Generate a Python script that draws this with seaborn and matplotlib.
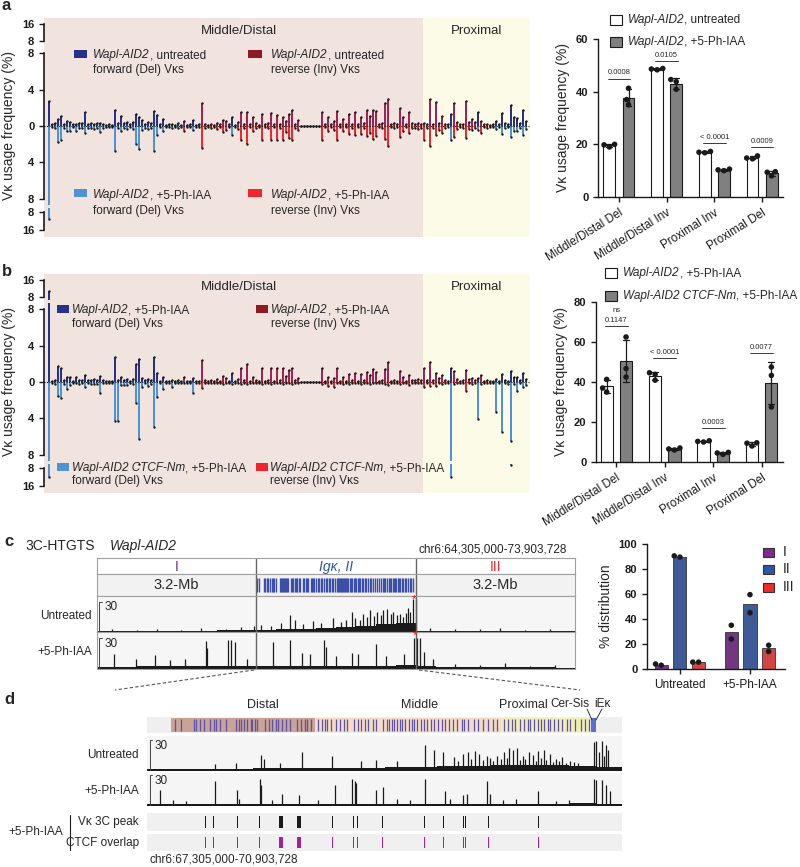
import numpy as np
import pandas as pd
import seaborn as sns
import matplotlib.pyplot as plt
from matplotlib.patches import Rectangle
from matplotlib.lines import Line2D
from matplotlib.text import Annotation

# ---------------- data ----------------
# Vk genes ordered distal -> proximal; D = forward (Del), I = reverse (Inv)
vk_orient = "D" * 45 + "I" + "D" * 5 + "I" * 10 + "D" * 2 + "I" * 71 + "D" + "I" * 8 + "D" + "I" * 5 + "D" * 11
n_middle_distal = 125

# Vk usage frequency (%)
wapl_untreated = [
    2.7, 0.2, 0.3, 0.8, 1.1, 0.2, 0.5, 0.4, 0.2, 0.2,
    0.3, 0.3, 1.5, 0.2, 0.3, 0.2, 0.3, 0.3, 0.2, 0.1,
    0.2, 0.1, 1.7, 0.3, 1.1, 0.3, 0.4, 0.2, 0.4, 1.3,
    1.0, 0.7, 0.2, 0.4, 0.3, 1.6, 1.2, 0.2, 0.8, 0.1,
    0.2, 0.2, 0.1, 0.3, 0.1, 0.6, 0.1, 0.2, 0.7, 0.1,
    0.2, 2.5, 0.2, 0.1, 0.2, 0.1, 0.3, 0.2, 0.7, 0.5,
    0.2, 1.0, 0.1, 0.4, 1.5, 0.2, 1.5, 0.2, 1.0, 0.3,
    0.1, 1.3, 0.2, 0.3, 1.4, 0.2, 1.2, 0.2, 1.0, 0.5,
    1.3, 1.7, 0.2, 0.7, 0.05, 0.05, 0.05, 0.05, 0.05, 0.05,
    0.05, 1.5, 0.2, 1.0, 0.2, 0.5, 1.6, 0.2, 0.8, 0.2,
    1.3, 0.2, 1.5, 0.2, 1.0, 0.3, 1.7, 1.1, 1.8, 1.6,
    0.2, 0.3, 2.5, 3.0, 0.2, 0.3, 0.2, 2.0, 1.0, 0.2,
    1.5, 0.3, 0.2, 0.3, 0.2, 0.3, 0.2, 3.0, 0.2, 2.6,
    0.3, 1.1, 0.2, 0.2, 1.3, 2.5, 0.4, 0.2, 0.2, 2.7,
    0.4, 0.8, 0.4, 1.5, 0.5, 0.2, 0.2, 0.1, 0.2, 0.6,
    0.2, 1.4, 0.3, 0.2, 2.3, 1.0, 0.9, 0.3, 1.8, 0.6,
]
wapl_phiaa = [
    11.0, 0.1, 0.2, 1.8, 1.5, 0.2, 0.6, 0.5, 0.1, 0.6,
    0.2, 0.2, 0.8, 0.2, 0.2, 0.3, 0.2, 0.7, 0.2, 0.1,
    0.1, 0.1, 2.7, 0.2, 0.6, 0.2, 0.3, 0.1, 0.3, 2.0,
    2.5, 0.4, 0.2, 0.3, 0.2, 2.7, 1.0, 0.1, 0.6, 0.1,
    0.1, 0.2, 0.1, 0.2, 0.1, 0.5, 0.1, 0.1, 0.4, 0.1,
    0.1, 2.4, 0.2, 0.1, 0.2, 0.1, 0.3, 0.1, 0.7, 0.4,
    0.1, 1.0, 0.1, 0.3, 1.5, 0.2, 2.0, 0.1, 0.5, 0.2,
    0.1, 1.5, 0.1, 0.2, 1.5, 0.1, 1.5, 0.2, 1.5, 0.7,
    1.3, 1.5, 0.2, 0.4, 0.05, 0.05, 0.05, 0.05, 0.05, 0.05,
    0.05, 1.5, 0.1, 0.6, 0.1, 0.4, 1.5, 0.1, 0.6, 0.1,
    0.9, 0.2, 1.0, 0.1, 0.9, 0.2, 1.1, 0.8, 1.4, 1.1,
    0.1, 0.2, 1.4, 2.2, 0.1, 0.2, 0.1, 1.2, 0.5, 0.1,
    0.8, 0.2, 0.2, 0.3, 0.2, 1.5, 0.2, 2.2, 0.2, 1.0,
    0.4, 0.8, 0.2, 0.1, 1.5, 1.2, 0.3, 0.1, 0.2, 1.3,
    0.3, 0.4, 0.2, 0.4, 0.8, 0.1, 0.2, 0.1, 0.1, 0.3,
    0.1, 0.9, 0.2, 0.1, 1.2, 0.6, 0.6, 0.2, 1.0, 0.3,
]
ctcf_phiaa = [
    12.0, 0.1, 0.2, 1.5, 1.7, 0.2, 0.8, 0.3, 0.1, 0.1,
    0.2, 0.1, 0.5, 0.1, 0.2, 0.2, 0.2, 1.2, 0.1, 0.1,
    0.1, 0.1, 4.3, 4.3, 0.3, 0.3, 0.3, 0.1, 0.2, 2.3,
    6.3, 0.5, 0.1, 0.4, 0.2, 4.9, 1.6, 0.1, 0.8, 0.1,
    0.1, 0.5, 0.1, 0.1, 0.1, 0.1, 0.1, 0.1, 1.2, 0.1,
    0.1, 0.7, 0.1, 0.1, 0.1, 0.1, 0.1, 0.1, 0.2, 0.1,
    0.1, 0.2, 0.1, 0.1, 0.2, 0.1, 0.2, 0.1, 0.1, 0.1,
    0.1, 0.2, 0.1, 0.1, 0.2, 0.1, 0.1, 0.1, 0.2, 0.1,
    0.1, 0.2, 0.1, 0.1, 0.05, 0.05, 0.05, 0.05, 0.05, 0.05,
    0.05, 0.2, 0.1, 0.4, 0.1, 0.6, 0.1, 0.1, 0.2, 0.1,
    0.2, 0.1, 0.1, 0.1, 0.2, 0.1, 0.1, 0.2, 0.1, 0.1,
    0.1, 0.1, 0.2, 0.3, 0.1, 0.1, 0.1, 0.2, 0.1, 0.1,
    0.3, 0.1, 0.1, 0.1, 0.1, 0.5, 0.1, 0.4, 0.1, 0.4,
    0.1, 0.2, 0.1, 0.1, 12.0, 0.2, 0.1, 0.1, 0.1, 1.0,
    0.1, 0.2, 0.1, 4.1, 0.2, 0.1, 0.1, 0.1, 0.1, 3.3,
    0.1, 5.5, 0.1, 0.2, 6.5, 0.2, 1.0, 0.1, 0.6, 0.3,
]

# summary bar charts (replicates, %)
groups = ["Middle/Distal Del", "Middle/Distal Inv", "Proximal Inv", "Proximal Del"]
a_untreated_reps = [[19.0, 19.8, 20.0], [48.3, 48.6, 48.8], [16.8, 17.0, 17.3], [14.5, 14.8, 15.6]]
a_phiaa_reps = [[35.0, 37.0, 41.3], [40.9, 43.8, 44.6], [10.0, 10.3, 10.6], [8.0, 9.4, 9.6]]
b_ctcf_reps = [[42.5, 46.7, 62.5], [6.0, 6.5, 7.0], [3.8, 4.5, 4.8], [27.5, 43.3, 47.5]]
a_pvals = ["0.0008", "0.0105", "< 0.0001", "0.0009"]
b_pvals = ["0.1147", "< 0.0001", "0.0003", "0.0077"]
a_pline = [45, 51.5, 20.5, 19]
b_pline = [68, 52, 17, 54.5]

# 3C-HTGTS % distribution
c_conds = ["Untreated", "+5-Ph-IAA"]
c_regions = ["I", "II", "III"]
c_untreated_reps = [[3.0, 4.0], [89.5, 90.5], [5.5, 5.5]]
c_phiaa_reps = [[24.0, 35.0], [45.0, 59.5], [14.0, 19.0]]

# Vk gene positions (Mb, chr6)
vk_pos_mb = [67.52, 67.56, 67.66, 67.68, 67.71, 67.74, 67.78, 67.81, 67.83, 67.86, 67.90, 67.98, 68.00, 68.02,
             68.04, 68.06, 68.09, 68.10, 68.12, 68.14, 68.20, 68.23, 68.25, 68.28, 68.30, 68.33, 68.36, 68.39,
             68.44, 68.47, 68.50, 68.52, 68.55, 68.60, 68.63, 68.65, 68.67, 68.70, 68.74, 68.77, 68.80, 68.82,
             68.87, 68.90, 68.93, 68.96, 68.98, 69.02, 69.04, 69.09, 69.12, 69.14, 69.16, 69.18, 69.20, 69.22,
             69.24, 69.26, 69.29, 69.31, 69.33, 69.35, 69.38, 69.40, 69.43, 69.46, 69.48, 69.51, 69.54, 69.56,
             69.59, 69.62, 69.65, 69.69, 69.71, 69.74, 69.78, 69.81, 69.85, 69.89, 69.93, 69.96, 70.01, 70.04,
             70.07, 70.09, 70.13, 70.16, 70.19, 70.21, 70.24, 70.27, 70.29, 70.31, 70.34, 70.36, 70.39, 70.42,
             70.45, 70.49, 70.51, 70.55, 70.59, 70.62, 70.65]

# panel c tracks (wide view)
c_range = (64.305, 73.9037)
c_bounds = [67.505, 70.704]
c_untr_base = [1.2, 1.0, 1.3, 1.5, 1.2, 1.4, 1.6, 1.8, 2.5, 3.0, 3.5, 4.5, 5.5, 6.5, 8.0, 9.0,
               1.5, 1.2, 1.0, 1.2, 1.0, 1.1, 0.9, 1.0]
c_untr_pos = [64.6, 65.1, 65.5, 66.0, 66.4, 66.9, 67.2, 67.45, 67.6, 67.8, 68.0, 68.18, 68.28, 68.45, 68.64,
              68.8, 69.04, 69.2, 69.3, 69.43, 69.49, 69.58, 69.65, 69.72, 69.79, 69.86, 69.93, 70.0, 70.05,
              70.13, 70.2, 70.25, 70.32, 70.39, 70.45, 70.5, 70.55, 70.6, 70.65, 70.71, 71.0, 71.5, 72.0,
              72.4, 72.9, 73.4]
c_untr_h = [3, 2, 3, 2, 4, 3, 5, 6, 7, 6, 9, 17, 12, 8, 11, 9, 14, 10, 12, 20, 14, 12, 18, 15, 22, 16, 20,
            17, 22, 23, 18, 20, 17, 18, 15, 19, 24, 20, 33, 33, 4, 3, 3, 4, 2, 3]
c_trt_base = [2.0, 2.2, 2.5, 2.5, 2.8, 3.0, 3.0, 2.8, 2.5, 2.5, 2.8, 2.5, 2.8, 3.0, 3.0, 3.5,
              2.5, 2.0, 1.8, 1.8, 1.5, 1.5, 1.5, 1.2]
c_trt_pos = [64.65, 65.09, 65.47, 65.77, 66.07, 66.49, 66.51, 66.94, 67.0, 67.08, 67.32, 67.84, 68.18, 68.42,
             68.58, 68.86, 68.9, 69.1, 69.43, 69.55, 69.91, 70.11, 70.47, 70.67, 70.73, 70.79, 70.87, 71.05,
             71.5, 72.0, 72.5, 73.0, 73.5]
c_trt_h = [15, 10, 14, 9, 10, 27, 20, 28, 28, 26, 10, 26, 28, 16, 15, 28, 21, 13, 16, 15, 24, 13, 15, 30, 30,
           30, 17, 10, 5, 4, 6, 3, 4]

# panel d tracks (Igk zoom)
d_range = (67.305, 70.9037)
d_regions = [("Distal", 67.49, 68.58, "#c9a395"), ("Middle", 68.58, 69.99, "#f5dcc6"),
             ("Proximal", 69.99, 70.66, "#f1eeb3")]
d_label_x = [68.18, 69.37, 70.16]
d_untr_base = [1.5, 1.5, 2.0, 2.0, 2.5, 2.5, 3.0, 3.0, 3.0, 3.5, 4.0, 5.0, 5.0, 5.5, 6.0, 6.0, 5.0, 4.0]
d_untr_pos = [67.82, 67.98, 68.17, 68.19, 68.31, 68.48, 68.71, 68.93, 69.04, 69.2, 69.41, 69.48, 69.55,
              69.63, 69.66, 69.70, 69.74, 69.76, 69.79, 69.82, 69.85, 69.88, 69.90, 69.93, 69.96, 69.99,
              70.01, 70.03, 70.05, 70.08, 70.11, 70.13, 70.15, 70.17, 70.20, 70.23, 70.25, 70.27, 70.29,
              70.31, 70.33, 70.36, 70.38, 70.40, 70.43, 70.45, 70.48, 70.51, 70.54, 70.57, 70.69, 70.71,
              70.73, 70.75, 70.77, 70.78, 70.80]
d_untr_h = [7, 8, 16, 12, 8, 18, 15, 10, 11, 10, 25, 20, 18, 14, 10, 17, 18, 12, 19, 17, 11, 15, 13, 10, 15,
            12, 18, 13, 22, 20, 22, 11, 15, 12, 18, 16, 10, 19, 13, 20, 11, 17, 9, 12, 10, 14, 8, 10, 9, 8,
            28, 29, 18, 29, 15, 25, 20]
d_trt_base = [2.0, 2.0, 2.0, 2.0, 2.0, 2.0, 2.0, 2.0, 2.0, 2.0, 2.0, 2.0, 2.0, 2.0, 2.0, 2.0, 3.0, 2.0]
d_trt_pos = [67.40, 67.5, 67.6, 67.82, 67.99, 68.0, 68.16, 68.17, 68.25, 68.33, 68.46, 68.6, 68.73, 68.86,
             68.88, 68.89, 69.04, 69.09, 69.2, 69.3, 69.41, 69.56, 69.6, 69.70, 69.73, 69.88, 69.90, 70.0,
             70.1, 70.27, 70.4, 70.5, 70.69, 70.71, 70.75, 70.78, 70.81]
d_trt_h = [16, 6, 5, 24, 16, 7, 26, 20, 6, 12, 11, 6, 20, 26, 24, 22, 16, 18, 7, 6, 26, 15, 7, 11, 12, 24,
           12, 6, 7, 15, 5, 6, 26, 25, 25, 20, 15]
peak_pos = [67.75, 67.81, 67.99, 68.16, 68.32, 68.455, 68.71, 68.79, 68.85, 68.87, 68.90, 69.09, 69.41,
            69.55, 69.70, 69.72, 69.89, 70.27]
peak_kb = [4, 4, 4, 4, 35, 30, 5, 5, 4, 4, 4, 10, 6, 8, 8, 4, 4, 8]

# ---------------- style ----------------
sns.set_theme(style="ticks")
plt.rcParams['font.family'] = ['Liberation Sans', 'DejaVu Sans']
plt.rcParams['axes.edgecolor'] = 'k'
plt.rcParams['axes.linewidth'] = 1.0
plt.rcParams['xtick.color'] = 'k'
plt.rcParams['ytick.color'] = 'k'
plt.rcParams['xtick.major.size'] = 3.5
plt.rcParams['ytick.major.size'] = 3.5
plt.rcParams['xtick.major.width'] = 1.0
plt.rcParams['ytick.major.width'] = 1.0

DEL_TOP, INV_TOP = '#27318a', '#a02257'
DEL_BOT, INV_BOT = '#4f93d6', '#f0262e'
INV_LEG = '#8e1b22'
PINK, YELLOW = '#f1e4de', '#fcfbe8'
GRAY = '#808080'
C_REG = ['#7b2b8b', '#2f56a6', '#ee2b2b']
LEG_FS = 8.5

W, H = 800, 867
fig = plt.figure(figsize=(W / 100, H / 100), dpi=100)


def box(x0, y0, x1, y1):
    return [x0 / W, 1 - y1 / H, (x1 - x0) / W, (y1 - y0) / H]


def ftext(x, y, s, **kw):
    kw.setdefault('fontsize', LEG_FS)
    kw.setdefault('va', 'center')
    return fig.text(x / W, 1 - y / H, s, **kw)


def fsquare(x, y, w, h, fc, ec='none'):
    fig.add_artist(Rectangle((x / W, 1 - (y + h / 2) / H), w / W, h / H, transform=fig.transFigure,
                             facecolor=fc, edgecolor=ec, lw=0.8))


def fline(xs, ys, **kw):
    fig.add_artist(Line2D([x / W for x in xs], [1 - y / H for y in ys], transform=fig.transFigure, **kw))


def mixed(x, y, ital, rest, size=LEG_FS):
    t = ftext(x, y, ital, fontsize=size, style='italic')
    fig.add_artist(Annotation(rest, xy=(1, 0.5), xycoords=t, va='center', ha='left', fontsize=size))


def vk_panel(dy, top_vals, bot_vals):
    idx = np.arange(len(vk_orient))
    is_del = np.array([o == 'D' for o in vk_orient])
    top = np.asarray(top_vals)
    bot = np.asarray(bot_vals)
    tc = np.where(is_del, DEL_TOP, INV_TOP)
    bc = np.where(is_del, DEL_BOT, INV_BOT)
    xl = (-1.67, 160.33)
    split = n_middle_distal - 0.5
    bg = fig.add_axes(box(44, 18 + dy, 530, 237 + dy))
    bg.set_xlim(xl)
    bg.set_ylim(0, 1)
    bg.axis('off')
    bg.axvspan(xl[0], split, color=PINK, lw=0)
    bg.axvspan(split, xl[1], color=YELLOW, lw=0)
    bg.text((xl[0] + split) / 2 + 2, 0.94, 'Middle/Distal', ha='center', va='center', fontsize=9.5)
    bg.text((split + xl[1]) / 2, 0.94, 'Proximal', ha='center', va='center', fontsize=9.5)
    parts = [(20, 44, (6.6, 17.9), [8, 16]),
             (47, 205, (-8.66, 8.66), [-8, -4, 0, 4, 8]),
             (208, 236, (18.67, 6.22), [8, 16])]
    axs = []
    for k, (y0, y1, lim, ticks) in enumerate(parts):
        ax = fig.add_axes(box(44, y0 + dy, 530, y1 + dy))
        ax.patch.set_visible(False)
        if k < 2:
            ax.bar(idx, top, width=0.85, color=tc, lw=0)
            ax.scatter(idx, top, s=3, color='k', lw=0, zorder=3)
        if k > 0:
            sgn = -1 if k == 1 else 1
            ax.bar(idx, sgn * bot, width=0.85, color=bc, lw=0)
            ax.scatter(idx, sgn * bot, s=3, color='k', lw=0, zorder=3)
        if k == 1:
            ax.axhline(0, color='k', lw=0.8, ls=(0, (1, 1.2)), zorder=2)
        ax.set_xlim(xl)
        ax.set_ylim(*lim)
        for s in ['top', 'right', 'bottom']:
            ax.spines[s].set_visible(False)
        ax.spines['left'].set_bounds(min(ticks), max(ticks))
        ax.spines['left'].set_linewidth(1.2)
        ax.set_xticks([])
        ax.set_yticks(ticks, [str(abs(t)) for t in ticks], fontsize=8, fontweight='bold')
        axs.append(ax)
    axs[1].set_ylabel('Vκ usage frequency (%)', fontsize=10)
    axs[1].yaxis.set_label_coords(-0.058, 0.5)


def bar_chart(ax, grp, reps_list, conds, palette, gap, errbar=True, edge='k'):
    rows = []
    for cond, reps in zip(conds, reps_list):
        for g, vals in zip(grp, reps):
            for v in vals:
                rows.append((g, cond, v))
    df = pd.DataFrame(rows, columns=['group', 'cond', 'value'])
    sns.barplot(df, x='group', y='value', hue='cond', order=grp, hue_order=conds, palette=palette,
                errorbar='sd' if errbar else None, capsize=0.25, err_kws={'color': 'k', 'linewidth': 0.9},
                width=0.8, gap=gap, edgecolor=edge, linewidth=0.8, ax=ax, legend=False)
    sns.swarmplot(df, x='group', y='value', hue='cond', order=grp, hue_order=conds,
                  palette={c: 'k' for c in conds}, dodge=True, size=4, ax=ax, legend=False)
    ax.set_xlabel('')
    sns.despine(ax=ax)


def pvals(ax, labels, ys, off):
    for i, (lab, y) in enumerate(zip(labels, ys)):
        ax.plot([i - 0.24, i + 0.24], [y, y], color='k', lw=0.6)
        ax.text(i, y + off, lab, ha='center', va='bottom', fontsize=5.5)


# ---------------- panel a ----------------
vk_panel(0, wapl_untreated, wapl_phiaa)
fsquare(74, 54, 13, 8, DEL_TOP)
mixed(93, 55, 'Wapl-AID2', ', untreated')
ftext(93, 70, 'forward (Del) Vκs')
fsquare(248, 54, 14, 8, INV_LEG)
mixed(271, 55, 'Wapl-AID2', ', untreated')
ftext(271, 70, 'reverse (Inv) Vκs')
fsquare(74, 193, 13, 8, DEL_BOT)
mixed(93, 195, 'Wapl-AID2', ', +5-Ph-IAA')
ftext(93, 211, 'forward (Del) Vκs')
fsquare(248, 193, 14, 8, INV_BOT)
mixed(271, 195, 'Wapl-AID2', ', +5-Ph-IAA')
ftext(271, 211, 'reverse (Inv) Vκs')

ax_ar = fig.add_axes(box(598, 39, 783, 197))
bar_chart(ax_ar, groups, [a_untreated_reps, a_phiaa_reps], ['untr', 'trt'], ['white', GRAY], 0.375)
ax_ar.set_ylim(0, 60)
ax_ar.set_xlim(-0.44, 3.44)
ax_ar.set_yticks([0, 20, 40, 60], ['0', '20', '40', '60'], fontsize=8, fontweight='bold')
ax_ar.set_xticks(range(4), groups, rotation=32, ha='right', rotation_mode='anchor', fontsize=8.5)
ax_ar.set_ylabel('Vκ usage frequency (%)', fontsize=10)
pvals(ax_ar, a_pvals, a_pline, 0.8)
fsquare(610, 20, 12, 10, 'white', 'k')
mixed(628, 20, 'Wapl-AID2', ', untreated')
fsquare(610, 42, 12, 10, GRAY, 'k')
mixed(628, 42, 'Wapl-AID2', ', +5-Ph-IAA')

# ---------------- panel b ----------------
vk_panel(256, wapl_phiaa, ctcf_phiaa)
fsquare(57, 309, 12, 8, DEL_TOP)
mixed(72, 310, 'Wapl-AID2', ', +5-Ph-IAA')
ftext(72, 324, 'forward (Del) Vκs')
fsquare(256, 309, 12, 8, INV_LEG)
mixed(271, 310, 'Wapl-AID2', ', +5-Ph-IAA')
ftext(271, 324, 'reverse (Inv) Vκs')
fsquare(57, 467, 12, 8, DEL_BOT)
mixed(72, 468, 'Wapl-AID2 CTCF-Nm', ', +5-Ph-IAA')
ftext(72, 481, 'forward (Del) Vκs')
fsquare(256, 467, 12, 8, INV_BOT)
mixed(270, 468, 'Wapl-AID2 CTCF-Nm', ', +5-Ph-IAA')
ftext(270, 481, 'reverse (Inv) Vκs')

ax_br = fig.add_axes(box(596, 302, 783, 462))
bar_chart(ax_br, groups, [a_phiaa_reps, b_ctcf_reps], ['trt', 'ctcf'], ['white', GRAY], 0.375)
ax_br.set_ylim(0, 80)
ax_br.set_xlim(-0.42, 3.44)
ax_br.set_yticks([0, 20, 40, 60, 80], ['0', '20', '40', '60', '80'], fontsize=8, fontweight='bold')
ax_br.set_xticks(range(4), groups, rotation=32, ha='right', rotation_mode='anchor', fontsize=8.5)
ax_br.set_ylabel('Vκ usage frequency (%)', fontsize=10)
pvals(ax_br, b_pvals, b_pline, 1.0)
ax_br.text(0, 74, 'ns', ha='center', va='bottom', fontsize=5.5)
fsquare(605, 273, 12, 10, 'white', 'k')
mixed(623, 273, 'Wapl-AID2', ', +5-Ph-IAA')
fsquare(605, 296, 12, 10, GRAY, 'k')
mixed(623, 296, 'Wapl-AID2 CTCF-Nm', ', +5-Ph-IAA')

# ---------------- panel c ----------------
ftext(25, 546, '3C-HTGTS', fontsize=10)
ftext(110, 546, 'Wapl-AID2', fontsize=10, style='italic')
ftext(567, 549, 'chr6:64,305,000-73,903,728', fontsize=8.5, ha='right')


def track_axes(rect, xr, fc, edge):
    ax = fig.add_axes(rect)
    ax.set_facecolor(fc)
    ax.set_xlim(*xr)
    ax.set_xticks([])
    ax.set_yticks([])
    for s in ax.spines.values():
        s.set_visible(edge)
        s.set_color('#a0a0a0')
        s.set_linewidth(0.8)
    return ax


def signal(ax, xr, base, pos, h, ymax, scale_x):
    edges = np.linspace(xr[0], xr[1], len(base) + 1)
    ax.stairs(base, edges, fill=True, color='k', lw=0)
    ax.vlines(pos, 0, h, color='k', lw=0.9)
    ax.set_ylim(0, ymax)
    ax.plot([scale_x, scale_x, scale_x + (xr[1] - xr[0]) * 0.006], [0, 30, 30], color='#444', lw=0.7)
    ax.text(scale_x + (xr[1] - xr[0]) * 0.01, 30.5, '30', fontsize=8.5, va='top', ha='left')


mids = [(c_range[0] + c_bounds[0]) / 2, sum(c_bounds) / 2, (c_bounds[1] + c_range[1]) / 2]
ax_ch = track_axes(box(97, 558, 575, 574), c_range, 'white', True)
ax_ch.set_ylim(0, 1)
ax_ch.text(mids[0], 0.45, 'I', color=C_REG[0], ha='center', va='center', fontsize=10)
ax_ch.text(mids[1], 0.45, 'Igκ, II', color=C_REG[1], ha='center', va='center', fontsize=10, style='italic')
ax_ch.text(mids[2], 0.45, 'III', color=C_REG[2], ha='center', va='center', fontsize=10)
ax_cg = track_axes(box(97, 574, 575, 596), c_range, '#f2f2f2', True)
ax_cg.set_ylim(0, 1)
ax_cg.vlines(vk_pos_mb, 0.18, 0.82, color='#3b4ea8', lw=1.0)
ax_cg.text(mids[0], 0.5, '3.2-Mb', ha='center', va='center', fontsize=10.5)
ax_cg.text(mids[2], 0.5, '3.2-Mb', ha='center', va='center', fontsize=10.5)
ax_cu = track_axes(box(97, 596, 575, 632), c_range, '#f6f6f6', True)
signal(ax_cu, c_range, c_untr_base, c_untr_pos, c_untr_h, 36, c_range[0] + 0.05)
ax_cu.text(70.66, 33, '*', color='red', ha='center', va='center', fontsize=8)
ax_ct = track_axes(box(97, 632, 575, 669), c_range, '#f6f6f6', True)
signal(ax_ct, c_range, c_trt_base, c_trt_pos, c_trt_h, 36, c_range[0] + 0.05)
ax_ct.text(70.69, 33, '*', color='red', ha='center', va='center', fontsize=8)
for ax in [ax_ch, ax_cg, ax_cu, ax_ct]:
    for b in c_bounds:
        ax.axvline(b, color='#666', lw=1.0)
ftext(92, 616, 'Untreated', ha='right')
ftext(92, 652, '+5-Ph-IAA', ha='right')
fline([254, 115], [670, 690], color='#555', lw=0.8, ls=(0, (3, 2)))
fline([419, 580], [670, 690], color='#555', lw=0.8, ls=(0, (3, 2)))

ax_cr = fig.add_axes(box(647, 544, 785, 669))
rows_c = []
for cond, reps in zip(c_conds, [c_untreated_reps, c_phiaa_reps]):
    for reg, vals in zip(c_regions, reps):
        for v in vals:
            rows_c.append((cond, reg, v))
df_c = pd.DataFrame(rows_c, columns=['cond', 'region', 'value'])
sns.barplot(df_c, x='cond', y='value', hue='region', order=c_conds, hue_order=c_regions, palette=C_REG,
            errorbar=None, width=0.8, gap=0.3, edgecolor='#333', linewidth=0.6, ax=ax_cr, legend=False)
sns.swarmplot(df_c, x='cond', y='value', hue='region', order=c_conds, hue_order=c_regions,
              palette={r: 'k' for r in c_regions}, dodge=True, size=4, ax=ax_cr, legend=False)
sns.despine(ax=ax_cr)
ax_cr.set_xlim(-0.47, 1.5)
ax_cr.set_ylim(0, 100)
ax_cr.set_yticks([0, 20, 40, 60, 80, 100], ['0', '20', '40', '60', '80', '100'], fontsize=8, fontweight='bold')
ax_cr.set_xticks([0, 1], c_conds, fontsize=8.5)
ax_cr.set_xlabel('')
ax_cr.set_ylabel('% distribution', fontsize=10)
for k, (lab, yy) in enumerate(zip(c_regions, [552, 569, 587])):
    fsquare(763, yy, 11, 9, C_REG[k], '#333')
    ftext(783, yy, lab, fontsize=10)

# ---------------- panel d ----------------
ax_db = track_axes(box(147, 717, 622, 733), d_range, '#efefef', False)
ax_db.set_ylim(0, 1)
for name, x0, x1, col in d_regions:
    ax_db.axvspan(x0, x1, 0.08, 0.92, color=col, lw=0)
ax_db.axvspan(70.67, 70.71, 0.08, 0.92, color='#5b6fd0', lw=0)
ax_db.vlines(vk_pos_mb, 0.12, 0.88, color='#5d52a6', lw=0.9)
for (name, x0, x1, col), lx in zip(d_regions, d_label_x):
    ax_db.text(lx, 1.35, name, ha='center', va='bottom', fontsize=9)
ftext(589, 704, 'Cer-Sis', fontsize=8.5, ha='right')
ftext(594, 704, 'iEκ', fontsize=8.5, ha='left')
fline([587, 592], [709, 720], color='k', lw=0.6)
fline([602, 596], [709, 720], color='k', lw=0.6)

ax_du = track_axes(box(147, 736, 622, 771), d_range, '#f5f5f5', False)
signal(ax_du, d_range, d_untr_base, d_untr_pos, d_untr_h, 34, d_range[0] + 0.02)
ax_dt = track_axes(box(147, 773, 622, 806), d_range, '#f5f5f5', False)
signal(ax_dt, d_range, d_trt_base, d_trt_pos, d_trt_h, 32, d_range[0] + 0.02)
for rect, col in [(box(147, 813, 622, 831), 'k'), (box(147, 834, 622, 851), '#a3229b')]:
    ax = track_axes(rect, d_range, '#f0f0f0', False)
    ax.set_ylim(0, 1)
    ax.bar(peak_pos, 0.7, width=np.maximum(np.array(peak_kb) / 1000, 0.006), bottom=0.15, color=col, lw=0)
ftext(139, 755, 'Untreated', ha='right')
ftext(139, 791, '+5-Ph-IAA', ha='right')
ftext(139, 822, 'Vκ 3C peak', ha='right')
ftext(139, 843, 'CTCF overlap', ha='right')
ftext(8, 832, '+5-Ph-IAA', ha='left')
fline([70, 70], [815, 850], color='k', lw=0.8)
ftext(150, 860, 'chr6:67,305,000-70,903,728')

# panel letters
for lab, (x, y) in zip('abcd', [(2, 6), (2, 271), (4, 541), (4, 700)]):
    ftext(x, y, lab, fontsize=12, fontweight='bold')

plt.savefig('out.png', dpi=100)
plt.close()
